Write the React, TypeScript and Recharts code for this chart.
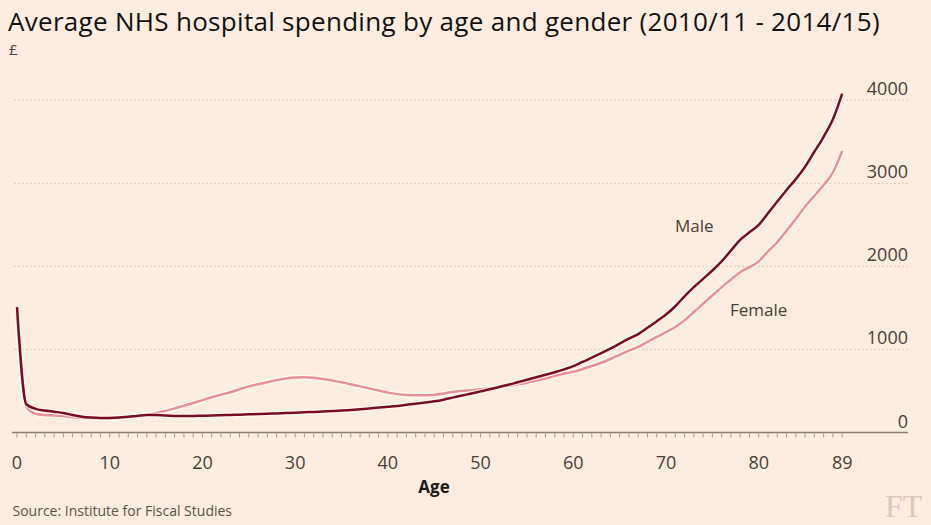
import React from 'react';
import { LineChart, Line, XAxis, YAxis, ReferenceLine } from 'recharts';

const ages = [
  0, 1, 2, 3, 4, 5, 6, 7, 8, 9, 10, 11, 12, 13, 14, 15, 16, 17, 18, 19,
  20, 21, 22, 23, 24, 25, 26, 27, 28, 29, 30, 31, 32, 33, 34, 35, 36, 37, 38, 39,
  40, 41, 42, 43, 44, 45, 46, 47, 48, 49, 50, 51, 52, 53, 54, 55, 56, 57, 58, 59,
  60, 61, 62, 63, 64, 65, 66, 67, 68, 69, 70, 71, 72, 73, 74, 75, 76, 77, 78, 79,
  80, 81, 82, 83, 84, 85, 86, 87, 88, 89,
];

const maleSpend = [
  1510, 340, 285, 265, 250, 235, 210, 190, 180, 175,
  175, 180, 190, 200, 210, 212, 205, 200, 198, 200,
  202, 205, 208, 212, 215, 219, 222, 226, 230, 234,
  238, 243, 248, 253, 258, 264, 272, 280, 290, 300,
  310, 320, 333, 346, 360, 375, 395, 420, 445, 470,
  495, 520, 548, 575, 605, 635, 665, 695, 725, 760,
  800, 850, 900, 955, 1010, 1070, 1130, 1185, 1260, 1340,
  1420, 1520, 1640, 1750, 1850, 1950, 2060, 2190, 2320, 2410,
  2500, 2640, 2780, 2920, 3050, 3200, 3380, 3560, 3770, 4080,
];

const femaleSpend = [
  1400, 310, 225, 210, 205, 198, 185, 175, 168, 165,
  166, 172, 185, 200, 215, 235, 260, 290, 323, 355,
  390, 425, 455, 485, 520, 555, 580, 605, 630, 650,
  662, 665, 660, 645, 625, 605, 580, 555, 530, 505,
  480, 462, 452, 447, 448, 455, 470, 488, 500, 510,
  520, 535, 548, 562, 580, 600, 625, 650, 680, 710,
  730, 765, 800, 840, 885, 935, 985, 1030, 1090, 1150,
  1210, 1270, 1350, 1450, 1550, 1650, 1750, 1840, 1930, 1990,
  2060, 2180, 2290, 2430, 2570, 2720, 2850, 2980, 3130, 3390,
];

const xTickLabels = [0, 10, 20, 30, 40, 50, 60, 70, 80, 89];
const yTicks = [0, 1000, 2000, 3000, 4000];

const data = ages.map((age, i) => ({ age, male: maleSpend[i], female: femaleSpend[i] }));

const BG = '#fcede0';
const FONT = '"Open Sans", "Noto Sans", sans-serif';
const TEXT = '#4a4036';
const MALE = '#7a0c22';
const FEMALE = '#eb8e96';

function XTick(props: any) {
  const { x, y, payload } = props;
  if (!xTickLabels.includes(payload.value)) return <g />;
  return (
    <text x={x} y={y} dy={29.5} textAnchor="middle" fontSize={18} fill={TEXT} fontFamily={FONT}>
      {payload.value}
    </text>
  );
}

function makeYLabel(value: number) {
  return (props: any) => {
    const vb = props.viewBox || {};
    const x = (vb.x || 0) + (vb.width || 0);
    const y = vb.y || 0;
    return (
      <text x={x} y={y} dy={-5} textAnchor="end" fontSize={18} fill={TEXT} fontFamily={FONT}>
        {value}
      </text>
    );
  };
}

export default function App() {
  return (
    <div style={{ position: 'fixed', left: 0, top: 0, width: 931, height: 525, background: BG, overflow: 'hidden' }}>
      <LineChart width={931} height={525} data={data} margin={{ top: 67, right: 23, left: 12, bottom: 0 }}>
        <XAxis
          dataKey="age"
          type="number"
          domain={[-0.54, 96.1]}
          ticks={ages}
          interval={0}
          height={92.5}
          tickSize={5}
          tickMargin={2}
          axisLine={{ stroke: '#8a7e6e', strokeWidth: 1.3 }}
          tickLine={{ stroke: '#a89888', strokeWidth: 1 }}
          tick={(p: any) => <XTick {...p} />}
        />
        <YAxis hide orientation="right" domain={[0, 4400]} ticks={yTicks} />
        {yTicks.map((v) => (
          <ReferenceLine
            key={v}
            y={v}
            stroke={v === 0 ? 'none' : '#e6c9ad'}
            strokeDasharray="2 2"
            label={makeYLabel(v)}
          />
        ))}
        <Line type="monotone" dataKey="female" stroke="#ffffff" strokeOpacity={0.7} strokeWidth={5} dot={false} activeDot={false} isAnimationActive={false} />
        <Line type="monotone" dataKey="female" stroke={FEMALE} strokeWidth={2.5} dot={false} activeDot={false} isAnimationActive={false} />
        <Line type="monotone" dataKey="male" stroke="#ffffff" strokeOpacity={0.7} strokeWidth={5} dot={false} activeDot={false} isAnimationActive={false} />
        <Line type="monotone" dataKey="male" stroke={MALE} strokeWidth={2.5} dot={false} activeDot={false} isAnimationActive={false} />
      </LineChart>
      <svg width={931} height={525} style={{ position: 'absolute', left: 0, top: 0, pointerEvents: 'none' }}>
        <text x={8} y={30.5} fontSize={26} letterSpacing={0.3} fill="#111" fontFamily={FONT}>
          Average NHS hospital spending by age and gender (2010/11 - 2014/15)
        </text>
        <text x={9} y={54.5} fontSize={15} fill={TEXT} fontFamily={FONT}>£</text>
        <text x={675} y={232} fontSize={17} fill={TEXT} fontFamily={FONT}>Male</text>
        <text x={730} y={316} fontSize={17} fill={TEXT} fontFamily={FONT}>Female</text>
        <text x={434} y={493} fontSize={17} fontWeight="bold" textAnchor="middle" fill="#1e1a16" fontFamily={FONT}>Age</text>
        <text x={12.5} y={516} fontSize={14} fill="#5c5249" fontFamily={FONT}>Source: Institute for Fiscal Studies</text>
        <text x={885} y={517} fontSize={32} fill="#d9c9b9" fontFamily='"Liberation Serif", "DejaVu Serif", serif'>FT</text>
      </svg>
    </div>
  );
}
